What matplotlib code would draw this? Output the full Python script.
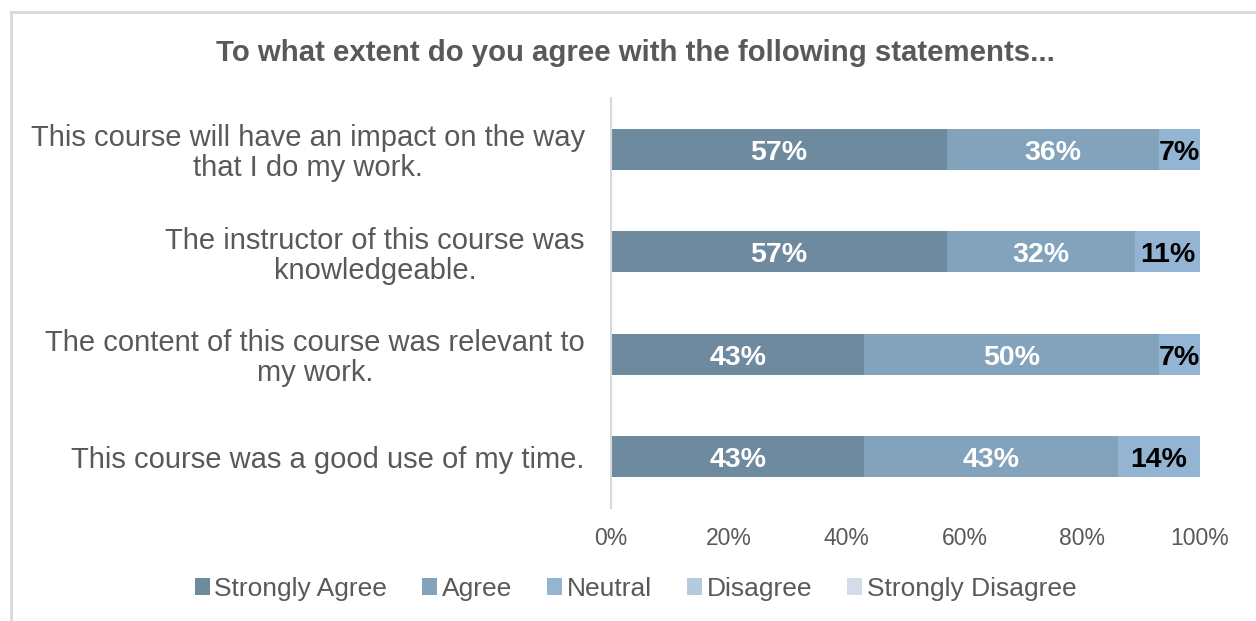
import matplotlib
matplotlib.use('Agg')

import numpy as np
import matplotlib.pyplot as plt
from matplotlib.patches import Patch
from matplotlib.lines import Line2D

plt.rcParams['font.family'] = ['Liberation Sans', 'DejaVu Sans']

# survey statements, top to bottom
statements = [
    'This course will have an impact on the way\nthat I do my work.',
    'The instructor of this course was\nknowledgeable.',
    'The content of this course was relevant to\nmy work.',
    'This course was a good use of my time.',
]
strongly_agree = [57, 57, 43, 43]
agree = [36, 32, 50, 43]
neutral = [7, 11, 7, 14]
disagree = [0, 0, 0, 0]
strongly_disagree = [0, 0, 0, 0]

series_names = ['Strongly Agree', 'Agree', 'Neutral', 'Disagree', 'Strongly Disagree']
series_vals = [strongly_agree, agree, neutral, disagree, strongly_disagree]
colors = ['#6e8a9f', '#82a3bb', '#93b5d3', '#b4cade', '#d2dde8']
label_colors = ['white', 'white', 'black', 'black', 'black']
grey = '#595959'

fig = plt.figure(figsize=(12.56, 6.21), dpi=100)
ax = fig.add_axes([0.4865, 0.182, 0.4689, 0.6602])

y = np.arange(len(statements))
left = np.zeros(len(statements))
for name, vals, col, lc in zip(series_names, series_vals, colors, label_colors):
    vals = np.array(vals, dtype=float)
    ax.barh(y, vals, left=left, height=0.4, color=col, edgecolor='none', label=name)
    for yi, l, v in zip(y, left, vals):
        if v > 0:
            ax.annotate(f'{int(v)}%', (l + v / 2, yi), xytext=(0, -2.5),
                        textcoords='offset points', ha='center', va='center',
                        color=lc, fontsize=20.5, fontweight='bold')
    left += vals

ax.set_xlim(0, 100)
ax.set_ylim(len(statements) - 0.5, -0.5)
ax.set_yticks(y)
ax.set_yticklabels(statements, fontsize=21, color=grey, ha='right',
                   multialignment='center', linespacing=1.1)
ax.set_xticks(np.arange(0, 101, 20))
ax.set_xticklabels([f'{t}%' for t in range(0, 101, 20)], fontsize=16.5, color=grey)
ax.tick_params(axis='both', length=0)
ax.tick_params(axis='y', pad=19)
ax.tick_params(axis='x', pad=14)
for s in ['top', 'right', 'bottom']:
    ax.spines[s].set_visible(False)
ax.spines['left'].set_color('#d9d9d9')
ax.spines['left'].set_linewidth(1.5)

fig.text(0.506, 0.915, 'To what extent do you agree with the following statements...',
         ha='center', va='center', fontsize=21.2, fontweight='bold', color=grey)

handles = [Patch(facecolor=c, edgecolor='none') for c in colors]
fig.legend(handles, series_names, loc='center', bbox_to_anchor=(0.506, 0.052),
           ncol=5, frameon=False, fontsize=19, handlelength=0.57, handleheight=0.57,
           handletextpad=0.17, columnspacing=1.33, labelcolor=grey)

# chart frame, only the left and top edges fall inside the image
fig.add_artist(Line2D([11 / 1256, 11 / 1256], [0, 1 - 12 / 621],
                      transform=fig.transFigure, color='#d9d9d9', lw=2))
fig.add_artist(Line2D([11 / 1256, 1], [1 - 12 / 621, 1 - 12 / 621],
                      transform=fig.transFigure, color='#d9d9d9', lw=2))

fig.savefig('out.png', dpi=100)
